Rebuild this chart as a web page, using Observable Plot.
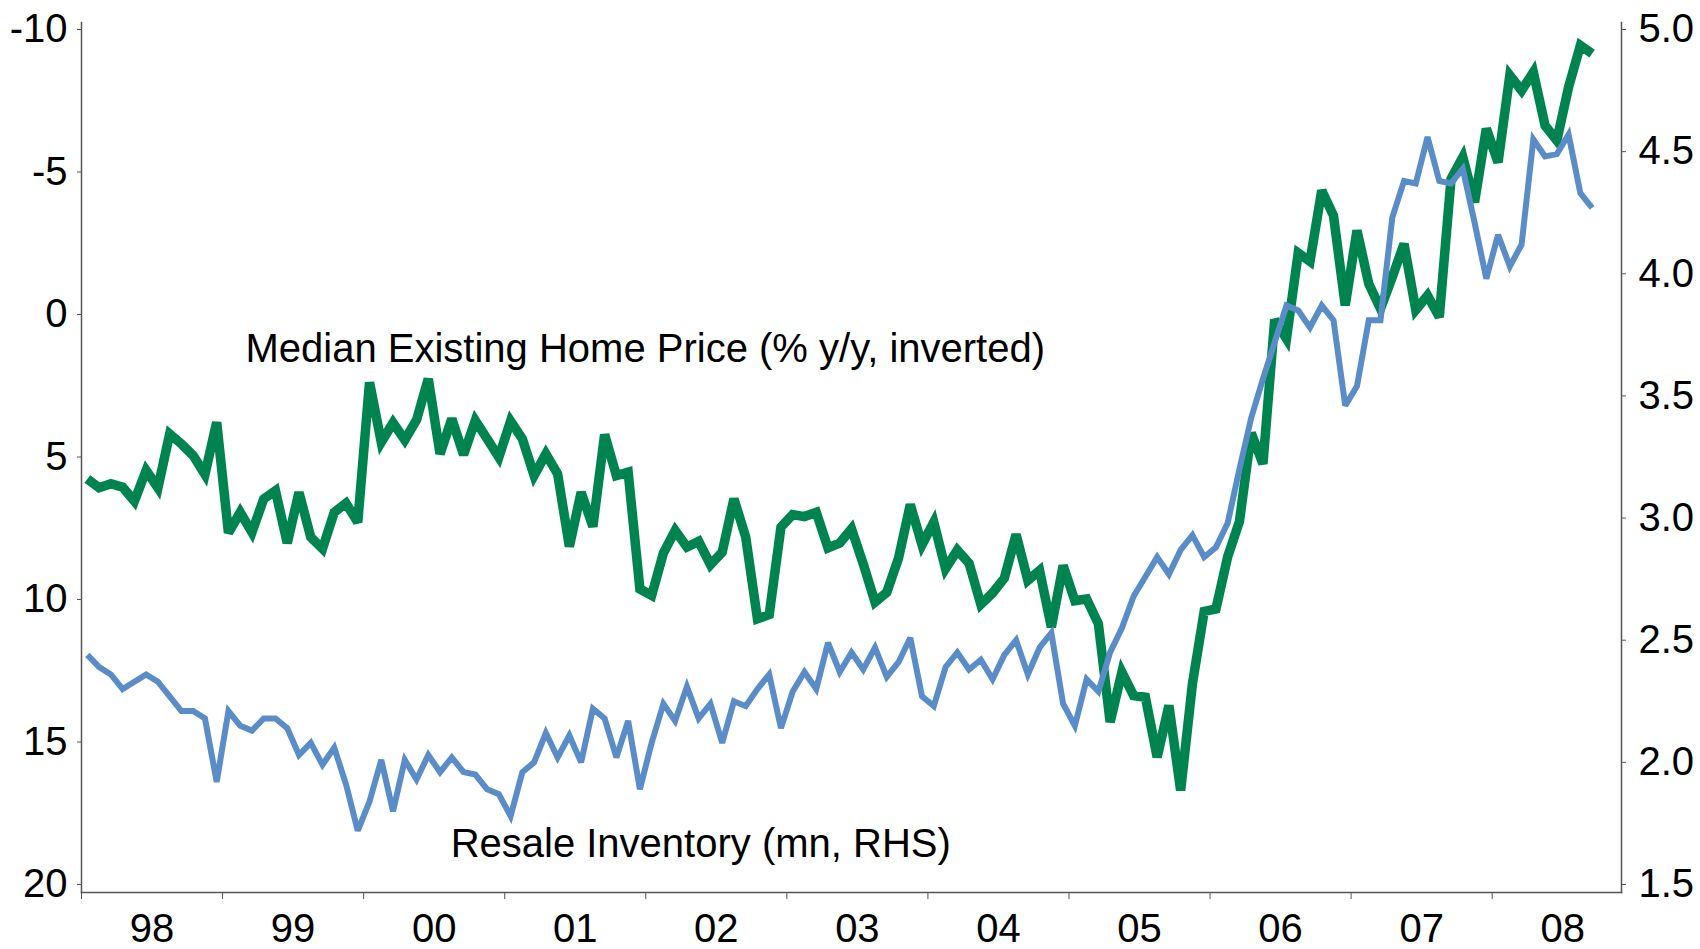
<!DOCTYPE html>
<html>
<head>
<meta charset="utf-8">
<script src="https://cdn.jsdelivr.net/npm/d3@7"></script>
<script src="https://cdn.jsdelivr.net/npm/@observablehq/plot@0.6"></script>
<style>
  html, body { margin: 0; padding: 0; background: #ffffff; }
  #chart svg { display: block; }
</style>
</head>
<body>
<div id="chart"></div>
<script>
// Monthly, Jan 1998 .. Sep 2008
const years = ["98","99","00","01","02","03","04","05","06","07","08"];

// Median existing home price, % y/y (plotted on inverted left axis)
const priceYoY = [
  5.77, 6.08, 5.94, 6.06, 6.55, 5.47, 6.08, 4.19, 4.54, 4.95, 5.61, 3.78,
  7.66, 6.94, 7.64, 6.47, 6.18, 8.02, 6.24, 7.81, 8.22, 6.94, 6.62, 7.29,
  2.38, 4.48, 3.80, 4.40, 3.70, 2.26, 4.89, 3.66, 4.92, 3.72, 4.36, 5.01,
  3.74, 4.36, 5.65, 4.89, 5.59, 8.14, 6.24, 7.44, 4.21, 5.65, 5.53, 9.63,
  9.86, 8.37, 7.58, 8.16, 7.96, 8.78, 8.34, 6.47, 7.81, 10.68, 10.53, 7.46,
  7.02, 7.09, 6.94, 8.19, 8.02, 7.52, 8.75, 10.09, 9.75, 8.55, 6.67, 8.08,
  7.29, 8.92, 8.27, 8.73, 10.17, 9.77, 9.25, 7.72, 9.33, 8.98, 10.97, 8.81,
  10.04, 9.98, 10.85, 14.30, 12.55, 13.37, 13.43, 15.53, 13.72, 16.70, 12.96, 10.42,
  10.33, 8.50, 7.26, 4.16, 5.24, 0.18, 0.85, -2.16, -1.86, -4.35, -3.47, -0.32,
  -2.95, -1.08, -0.20, -1.31, -2.48, -0.16, -0.67, 0.09, -4.76, -5.52, -3.94, -6.52,
  -5.34, -8.39, -7.86, -8.50, -6.63, -6.11, -7.98, -9.44, -9.15
];

// Resale inventory, millions (right axis)
const inventory = [
  2.44, 2.39, 2.36, 2.30, 2.33, 2.36, 2.33, 2.27, 2.21, 2.21, 2.18, 1.92,
  2.21, 2.15, 2.13, 2.18, 2.18, 2.14, 2.03, 2.08, 1.99, 2.06, 1.91, 1.72,
  1.84, 2.01, 1.80, 2.01, 1.93, 2.03, 1.96, 2.02, 1.96, 1.95, 1.89, 1.87,
  1.78, 1.96, 2.00, 2.12, 2.02, 2.11, 2.00, 2.22, 2.18, 2.02, 2.17, 1.89,
  2.08, 2.24, 2.17, 2.31, 2.18, 2.24, 2.08, 2.25, 2.23, 2.30, 2.36, 2.14,
  2.29, 2.37, 2.30, 2.49, 2.37, 2.45, 2.38, 2.47, 2.35, 2.41, 2.51, 2.27,
  2.23, 2.39, 2.45, 2.38, 2.42, 2.34, 2.44, 2.50, 2.36, 2.47, 2.53, 2.24,
  2.15, 2.34, 2.29, 2.45, 2.55, 2.68, 2.76, 2.84, 2.77, 2.87, 2.93, 2.84,
  2.88, 2.98, 3.20, 3.41, 3.57, 3.72, 3.87, 3.85, 3.78, 3.87, 3.81, 3.46,
  3.54, 3.81, 3.81, 4.23, 4.38, 4.37, 4.56, 4.38, 4.37, 4.43, 4.21, 3.98,
  4.16, 4.03, 4.12, 4.55, 4.48, 4.49, 4.57, 4.33, 4.27
];

const leftTicks = [-10, -5, 0, 5, 10, 15, 20];
const rightTicks = [1.5, 2.0, 2.5, 3.0, 3.5, 4.0, 4.5, 5.0];

const seriesLabels = [
  {text: "Median Existing Home Price (% y/y, inverted)", m: 13.45, v: 1.65},
  {text: "Resale Inventory (mn, RHS)", m: 30.9, v: 19.04}
];

const GREEN = "#00844F";
const BLUE = "#5A8DC8";
const AXIS = "#555555";
const FONT = "'Liberation Sans', Arial, Helvetica, sans-serif";

// left domain (inverted) and right domain
const L_TOP = -10, L_BOT = 20, R_TOP = 5.0, R_BOT = 1.5;
const rToL = r => L_TOP + (R_TOP - r) * (L_BOT - L_TOP) / (R_TOP - R_BOT);
const lToR = l => R_TOP - (l - L_TOP) * (R_TOP - R_BOT) / (L_BOT - L_TOP);

const data = priceYoY.map((v, i) => ({m: i, price: v, inv: rToL(inventory[i])}));

const yearEdges = years.map((_, k) => k * 12 - 0.5);
const yearMids = years.map((_, k) => k * 12 + 5.5);

const chart = Plot.plot({
  width: 1700,
  height: 949,
  marginLeft: 81,
  marginRight: 79,
  marginTop: 22,
  marginBottom: 57,
  style: {fontFamily: FONT, fontSize: "40px", background: "#ffffff", color: "#000000"},
  x: {domain: [-0.5, 130.5], axis: null, label: null},
  y: {domain: [L_TOP, L_BOT], reverse: true, insetTop: 7, insetBottom: 8, axis: null, label: null},
  marks: [
    Plot.frame({anchor: "left", stroke: AXIS, strokeWidth: 1.5}),
    Plot.frame({anchor: "right", stroke: AXIS, strokeWidth: 1.5}),
    Plot.frame({anchor: "bottom", stroke: AXIS, strokeWidth: 1.5}),
    Plot.axisY(leftTicks, {
      anchor: "left", tickSize: 4, tickPadding: 10, stroke: AXIS, fill: "#000",
      fontSize: 40, fontFamily: FONT, label: null, tickFormat: d => String(d)
    }),
    Plot.axisY(rightTicks.map(rToL), {
      anchor: "right", tickSize: 4, tickPadding: 13, stroke: AXIS, fill: "#000",
      fontSize: 40, fontFamily: FONT, label: null, tickFormat: d => lToR(d).toFixed(1)
    }),
    Plot.axisX(yearEdges, {
      anchor: "bottom", tickSize: 7, stroke: AXIS, label: null, tickFormat: () => ""
    }),
    Plot.axisX(yearMids, {
      anchor: "bottom", tickSize: 0, tickPadding: 21, fill: "#000",
      fontSize: 40, fontFamily: FONT, label: null,
      tickFormat: d => years[Math.round((d - 5.5) / 12)]
    }),
    Plot.line(data, {
      x: "m", y: "price", stroke: GREEN, strokeWidth: 9.5,
      strokeLinejoin: "miter", strokeLinecap: "butt", strokeMiterlimit: 3
    }),
    Plot.line(data, {
      x: "m", y: "inv", stroke: BLUE, strokeWidth: 6,
      strokeLinejoin: "miter", strokeLinecap: "butt", strokeMiterlimit: 3
    }),
    Plot.text(seriesLabels, {
      x: "m", y: "v", text: "text", textAnchor: "start", lineAnchor: "bottom",
      fontSize: 40, fontFamily: FONT, fill: "#000"
    })
  ]
});

document.getElementById("chart").appendChild(chart);
</script>
</body>
</html>
